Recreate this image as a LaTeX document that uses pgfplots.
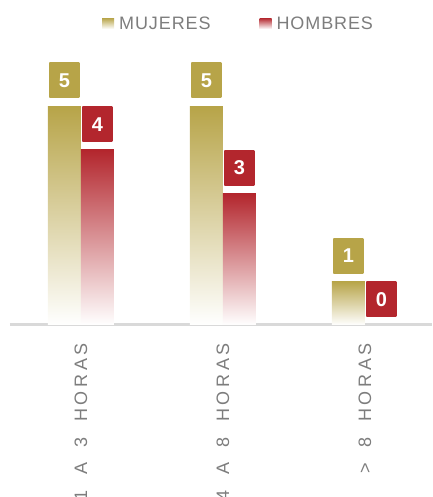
\documentclass[border=0pt]{standalone}
\usepackage{fontspec}
\setmainfont{Liberation Sans}
\newfontfamily\spaced[LetterSpace=20,WordSpace=1.8]{Liberation Sans}
\newfontfamily\legendfont[LetterSpace=5]{Liberation Sans}
\usepackage{pgfplots}
\pgfplotsset{compat=1.18}
\definecolor{goldc}{RGB}{183,164,72}
\definecolor{redc}{RGB}{179,38,45}
\definecolor{txtgray}{RGB}{125,125,125}
\pgfplotsset{
 mstyle/.style={draw=none, top color=goldc, bottom color=white, bar shift=-16.5pt, every node near coord/.append style={top color=goldc, bottom color=goldc}},
 hstyle/.style={draw=none, top color=redc, bottom color=white, bar shift=16.5pt, every node near coord/.append style={top color=redc, bottom color=redc}},
}
\begin{document}
\begin{tikzpicture}
\begin{axis}[
 at={(10pt,172pt)}, anchor=south west,
 scale only axis, width=422pt, height=275pt,
 xmin=-0.5, xmax=2.472, ymin=0, ymax=6.28,
 ybar=0pt, bar width=33pt,
 axis x line*=bottom, axis y line=none,
 x axis line style={draw=black!15, line width=3pt},
 xtick={0,1,2}, xticklabels={1 A 3 HORAS, 4 A 8 HORAS, > 8 HORAS},
 major tick length=0pt,
 xticklabel style={rotate=90, anchor=east, inner sep=0pt, font=\spaced\fontsize{18}{20}\selectfont, text=txtgray},
 xticklabel shift=18pt,
 ytick=\empty,
 clip=false,
 nodes near coords,
 /pgf/number format/assume math mode=true,
 every node near coord/.append style={anchor=south, yshift=8pt, text=white, font=\fontsize{20}{22}\selectfont\bfseries, minimum width=30pt, minimum height=35pt, inner sep=0pt},
 legend columns=2,
 legend style={at={(0.218,1.0945)}, anchor=west, draw=none, fill=none, inner xsep=0pt, font=\legendfont\fontsize{18}{20}\selectfont, text=txtgray, /tikz/every odd column/.append style={column sep=3pt}, /tikz/every even column/.append style={column sep=47pt}},
 legend image code/.code={\path[#1, draw=none] (0pt,-5pt) rectangle (12pt,6pt);},
]
\addplot[mstyle] coordinates {(0,5)};
\addplot[hstyle] coordinates {(0,4)};
\addplot[mstyle, forget plot] coordinates {(1,5)};
\addplot[mstyle, forget plot] coordinates {(2,1)};
\addplot[hstyle, forget plot] coordinates {(1,3)};
\addplot[hstyle, forget plot] coordinates {(2,0)};
\legend{MUJERES, HOMBRES}
\end{axis}
\pgfresetboundingbox
\path[use as bounding box] (0,0) rectangle (432pt,497pt);
\end{tikzpicture}
\end{document}
